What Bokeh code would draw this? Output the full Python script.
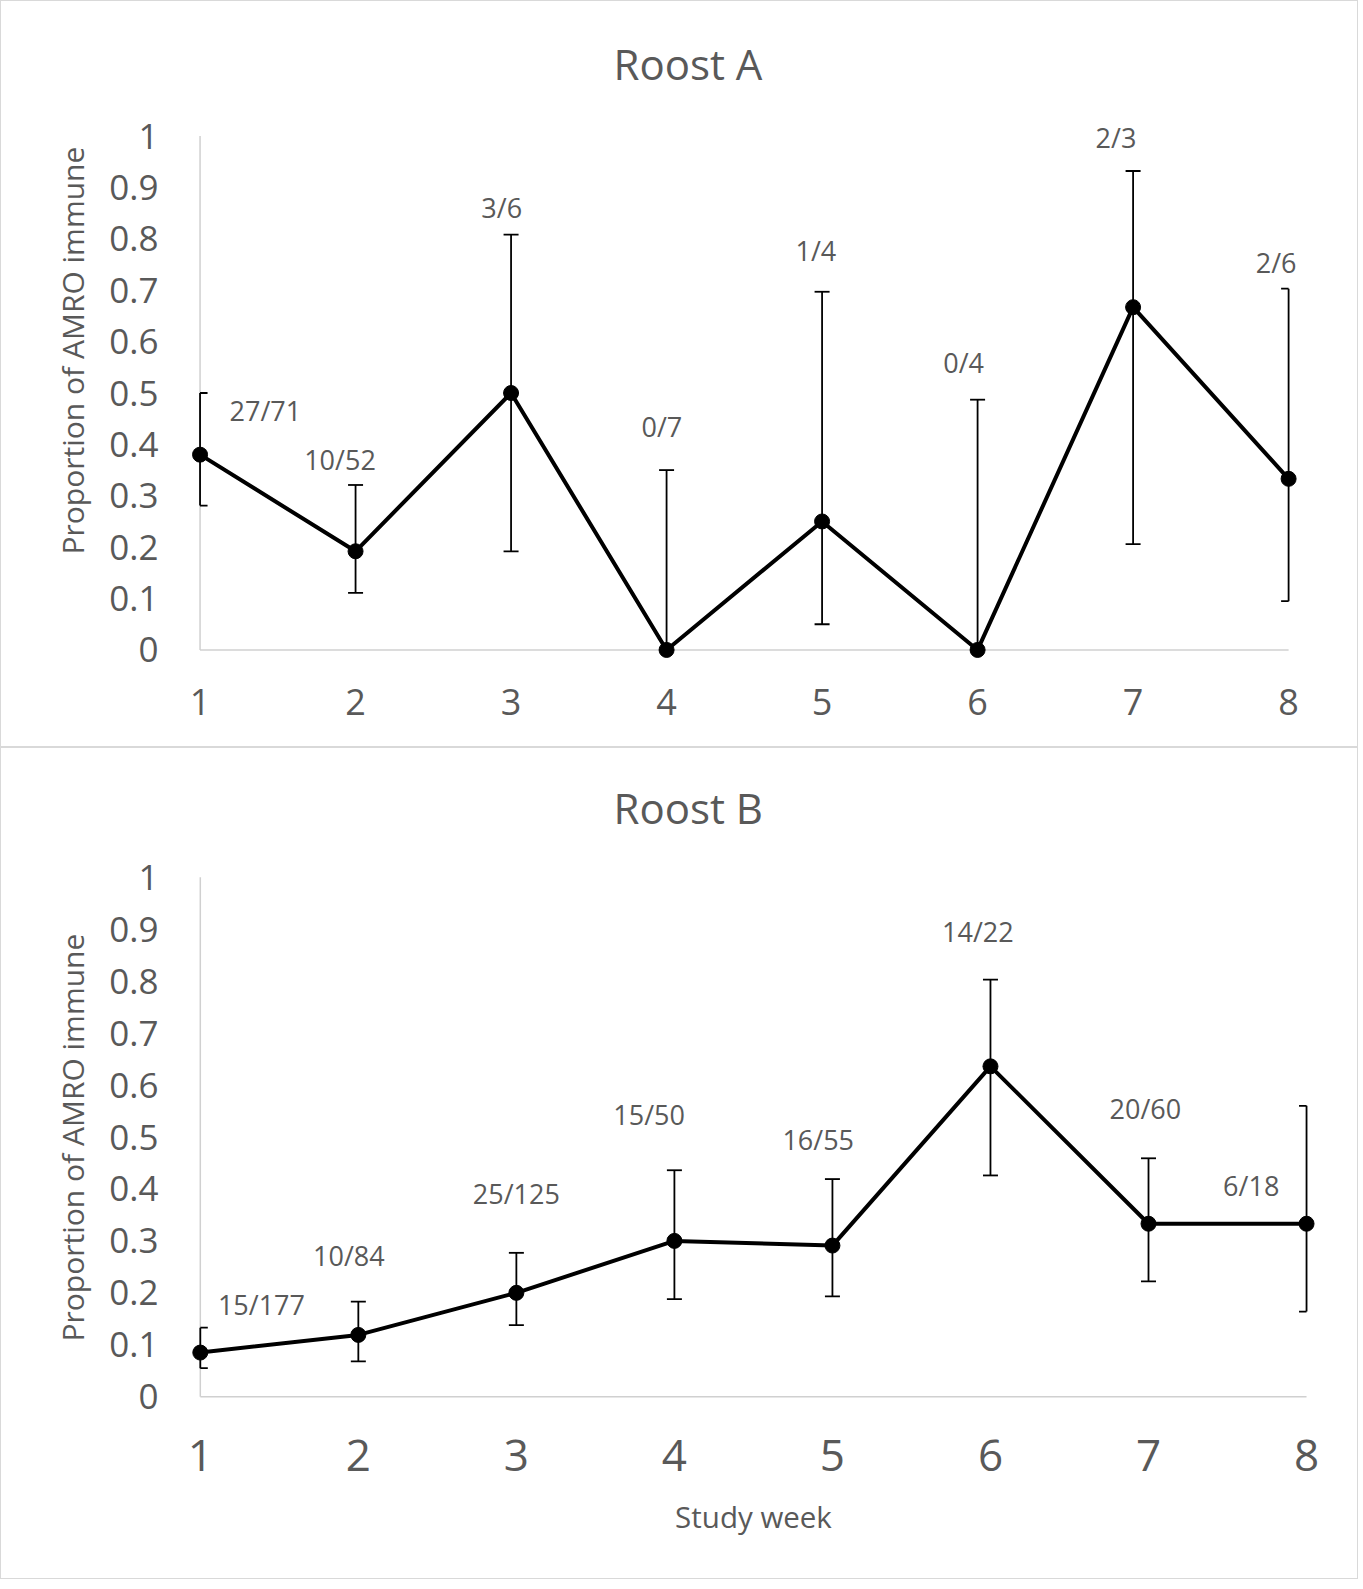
import numpy as np
from bokeh.plotting import figure
from bokeh.models import (Range1d, FixedTicker, CustomJSTickFormatter, Title,
                          LabelSet, ColumnDataSource)
from bokeh.layouts import column
from bokeh.core.properties import value
from bokeh.embed import file_html
from bokeh.resources import INLINE

# ---------------- data ----------------
WEEKS = [1, 2, 3, 4, 5, 6, 7, 8]
YTICKS = [0, 0.1, 0.2, 0.3, 0.4, 0.5, 0.6, 0.7, 0.8, 0.9, 1]

A_LABELS = ["27/71", "10/52", "3/6", "0/7", "1/4", "0/4", "2/3", "2/6"]
A_PROP = [0.38, 0.192, 0.5, 0.0, 0.25, 0.0, 0.667, 0.333]
A_UPPER = [0.50, 0.321, 0.808, 0.350, 0.697, 0.487, 0.932, 0.703]
A_LOWER = [0.281, 0.111, 0.192, 0.0, 0.050, 0.0, 0.206, 0.095]

B_LABELS = ["15/177", "10/84", "25/125", "15/50", "16/55", "14/22", "20/60", "6/18"]
B_PROP = [0.085, 0.119, 0.2, 0.3, 0.291, 0.636, 0.333, 0.333]
B_UPPER = [0.133, 0.183, 0.277, 0.436, 0.419, 0.803, 0.459, 0.560]
B_LOWER = [0.055, 0.068, 0.138, 0.188, 0.193, 0.426, 0.222, 0.164]

# data-label placement (layout, in data units)
A_LABEL_X = [1.42, 1.90, 2.94, 3.97, 4.96, 5.91, 6.89, 7.92]
A_LABEL_Y = [0.465, 0.371, 0.861, 0.435, 0.777, 0.560, 0.998, 0.753]
B_LABEL_X = [1.387, 1.94, 3.0, 3.84, 4.91, 5.92, 6.98, 7.65]
B_LABEL_Y = [0.178, 0.271, 0.391, 0.544, 0.495, 0.896, 0.555, 0.407]

FONT = "Open Sans"
GREY = "#595959"
AXIS_GREY = "#d0d0d0"
W = 1358
MB_LEFT = 183
MB_RIGHT = 37
X_START = 0.9


def make_panel(title, prop, upper, lower, labels, lx, ly, height, x_end,
               mb_top, mb_bottom, xtick_size, title_standoff,
               xtick_standoff, ylab_offset, xlabel=None):
    p = figure(width=W, height=height, x_range=Range1d(X_START, x_end),
               y_range=Range1d(-0.04, 1.04), output_backend="svg",
               toolbar_location=None, min_border_left=MB_LEFT,
               min_border_right=MB_RIGHT, min_border_top=mb_top,
               min_border_bottom=mb_bottom)
    p.styles = {"border": "1px solid #d9d9d9", "box-sizing": "border-box"}
    p.grid.visible = False
    p.outline_line_color = None

    p.add_layout(Title(text=title, align="left", offset=429,
                       standoff=title_standoff, text_font=FONT,
                       text_font_size="42px", text_font_style="normal",
                       text_color=GREY), "above")

    xa = p.xaxis[0]
    xa.ticker = FixedTicker(ticks=WEEKS)
    xa.axis_line_color = None
    xa.major_tick_line_color = None
    xa.minor_tick_line_color = None
    xa.major_label_text_font = FONT
    xa.major_label_text_font_size = xtick_size
    xa.major_label_text_color = GREY
    xa.major_label_standoff = xtick_standoff
    if xlabel:
        xa.axis_label = xlabel
        xa.axis_label_text_font = FONT
        xa.axis_label_text_font_size = "29.5px"
        xa.axis_label_text_font_style = "normal"
        xa.axis_label_text_color = GREY
        xa.axis_label_standoff = 22

    ya = p.yaxis[0]
    ya.ticker = FixedTicker(ticks=YTICKS)
    ya.formatter = CustomJSTickFormatter(code="return (Math.round(tick*10)/10).toString();")
    ya.axis_line_color = None
    ya.major_tick_line_color = None
    ya.minor_tick_line_color = None
    ya.major_label_text_font = FONT
    ya.major_label_text_font_size = "35px"
    ya.major_label_text_color = GREY
    ya.major_label_standoff = 20

    # y-axis title, as a vertical title on the left side
    p.add_layout(Title(text="Proportion of AMRO immune", align="left",
                       offset=ylab_offset, standoff=27, text_font=FONT,
                       text_font_size="30px", text_font_style="normal",
                       text_color=GREY), "left")

    # axis lines at week 1 and y = 0
    p.segment(x0=[WEEKS[0], WEEKS[0]], y0=[YTICKS[0], YTICKS[0]],
              x1=[WEEKS[-1], WEEKS[0]], y1=[YTICKS[0], YTICKS[-1]],
              line_color=AXIS_GREY, line_width=1.5)

    # error bars
    px_per_week = (W - MB_LEFT - MB_RIGHT) / (x_end - X_START)
    half = 7.5 / px_per_week
    wk = np.array(WEEKS, dtype=float)
    cx0 = np.maximum(wk - half, WEEKS[0])
    cx1 = np.minimum(wk + half, WEEKS[-1])
    p.segment(x0=WEEKS, y0=lower, x1=WEEKS, y1=upper, line_color="black", line_width=1.8)
    p.segment(x0=cx0, y0=upper, x1=cx1, y1=upper, line_color="black", line_width=1.8)
    p.segment(x0=cx0, y0=lower, x1=cx1, y1=lower, line_color="black", line_width=1.8)

    p.line(WEEKS, prop, line_color="black", line_width=4)
    p.scatter(WEEKS, prop, size=15, fill_color="black", line_color="black")

    src = ColumnDataSource(dict(x=lx, y=ly, t=labels))
    p.add_layout(LabelSet(x="x", y="y", text="t", source=src, text_align="center",
                          text_baseline="middle", text_font=value(FONT),
                          text_font_size="27px", text_color=GREY))
    return p


p1 = make_panel("Roost A", A_PROP, A_UPPER, A_LOWER, A_LABELS, A_LABEL_X, A_LABEL_Y,
                height=747, x_end=8.218, mb_top=114, mb_bottom=78,
                xtick_size="36px", title_standoff=47, xtick_standoff=12,
                ylab_offset=116)
p2 = make_panel("Roost B", B_PROP, B_UPPER, B_LOWER, B_LABELS, B_LABEL_X, B_LABEL_Y,
                height=832, x_end=8.101, mb_top=108, mb_bottom=163,
                xtick_size="44px", title_standoff=42, xtick_standoff=16,
                ylab_offset=76, xlabel="Study week")

layout = column(p1, p2, spacing=0)
open("out.html", "w").write(file_html(layout, INLINE))
